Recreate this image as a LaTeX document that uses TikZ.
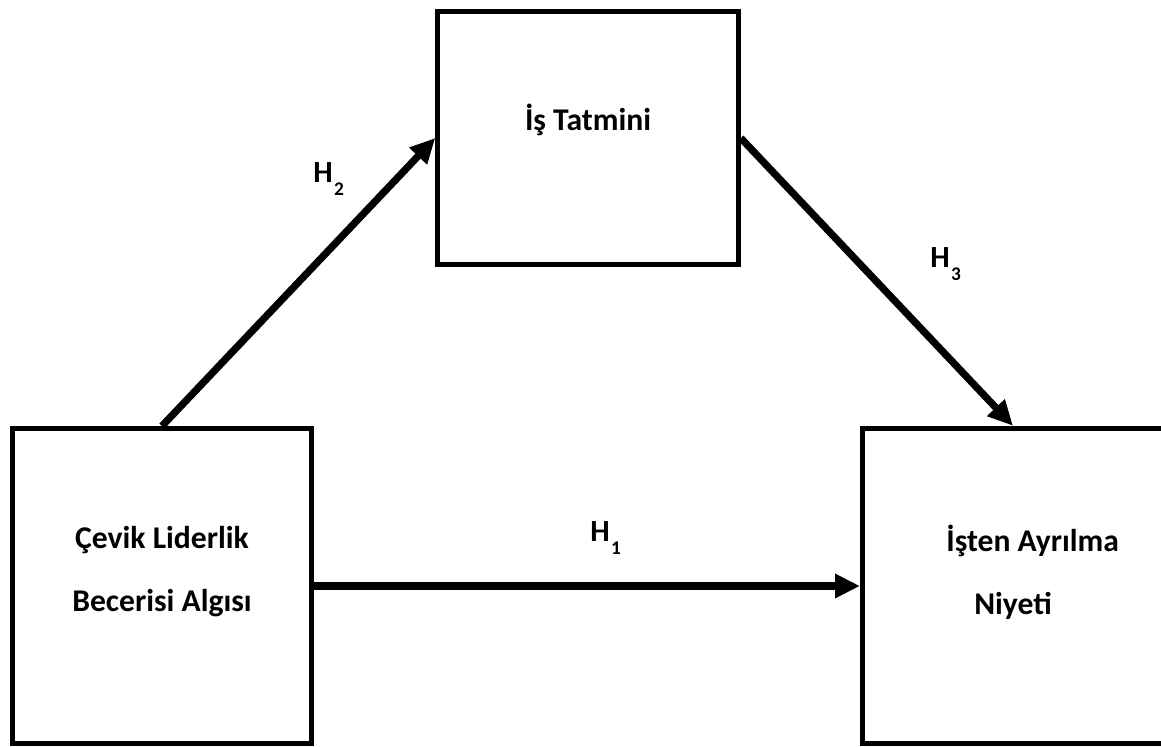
\documentclass[tikz,border=0pt]{standalone}
\usepackage{fontspec}
\setmainfont{Carlito}
\usepackage{tikz}
\usetikzlibrary{arrows.meta,positioning}
\newcommand{\hyp}[1]{H\kern0.8pt\raisebox{-7.4pt}{\fontsize{11}{12}\selectfont #1}}
\tikzset{
  box/.style={draw=black, line width=0.1cm, inner sep=0pt, minimum width=#1},
  txt/.style={font=\fontsize{18}{35.9}\selectfont\bfseries, align=center, inner sep=0pt},
  hlbl/.style={font=\fontsize{17.5}{20}\selectfont\bfseries, anchor=base west, inner sep=0pt},
  path/.style={-{Triangle[length=0.5cm, width=0.46cm]}, line width=0.145cm, draw=black},
}
\begin{document}
\begin{tikzpicture}[x=0.02cm, y=-0.02cm]
  \useasboundingbox (0,0) rectangle (1161,747);
  % boxes
  \node[box=6cm, minimum height=6.3cm] (cev) at (162,586) {};
  \node[box=6.01cm, minimum height=5.08cm] (tat) at (588,138) {};
  \node[box=6.02cm, minimum height=6.31cm] (ayr) at (1013,586) {};
  % box texts
  \node[txt] (cevt) at (162,572) {Çevik Liderlik\\Becerisi Algısı};
  \node[txt] (tatt) at (588,120) {İş Tatmini};
  \node[txt, align=left, anchor=west] (ayrt) at (946,572) {İşten Ayrılma\\\hspace*{0.56cm}Niyeti};
  % paths
  \draw[path] (cev.north) -- (tat.west);
  \draw[path] (tat.east) -- (ayr.north);
  \draw[path] (cev.east) -- (ayr.west);
  \node[hlbl] (h2) at (313,182) {\hyp{2}};
  \node[hlbl] (h3) at (930,267) {\hyp{3}};
  \node[hlbl] (h1) at (590,541) {\hyp{1}};
\end{tikzpicture}
\end{document}
